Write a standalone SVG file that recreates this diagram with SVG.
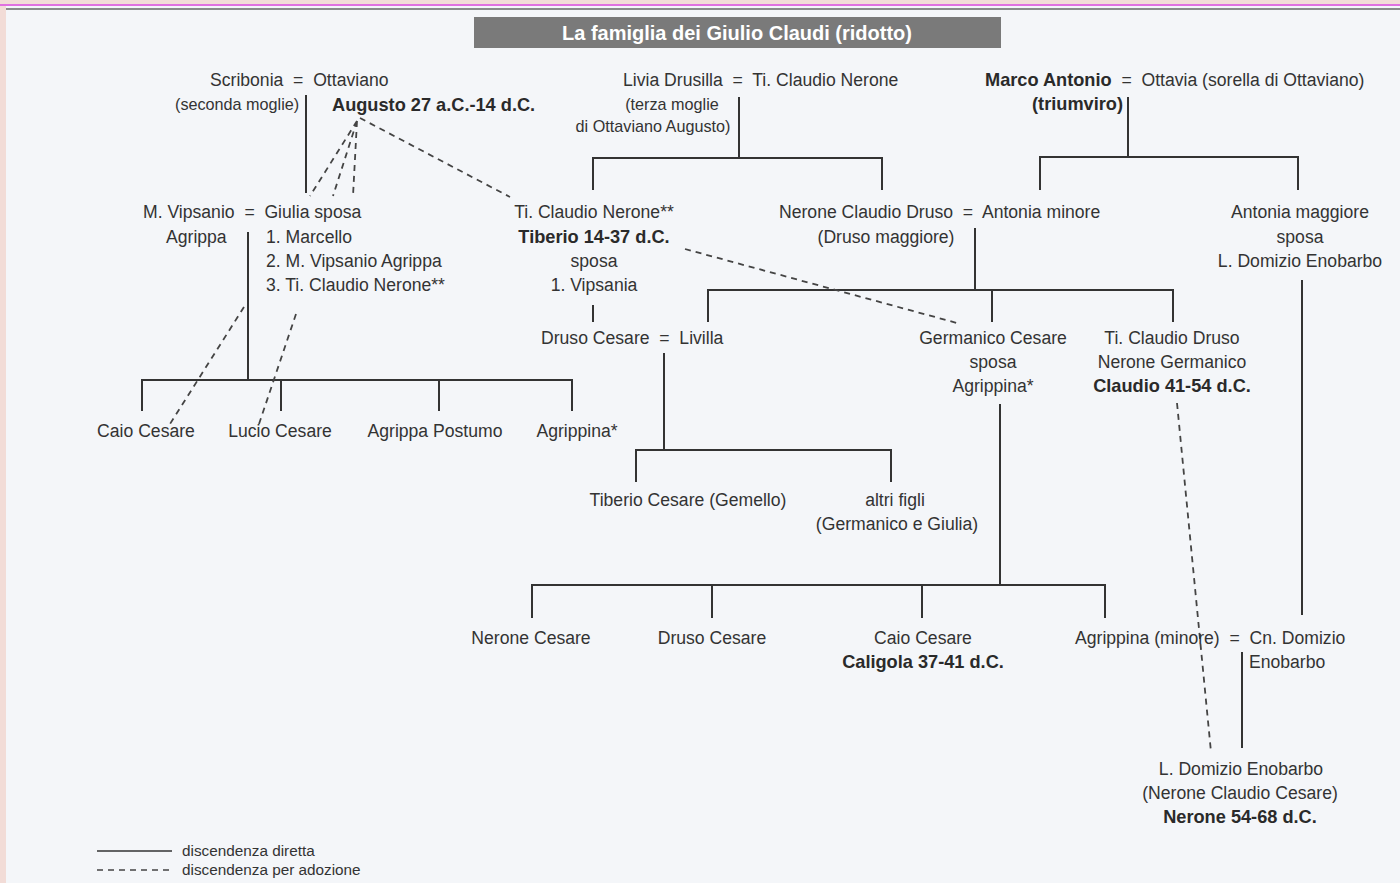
<svg xmlns="http://www.w3.org/2000/svg" width="1400" height="883" viewBox="0 0 1400 883" xml:space="preserve">
<style>
text{font-family:"Liberation Sans",Arial,sans-serif;font-size:17.6px;fill:#333;white-space:pre}
.s{font-size:16.2px}
.lg{font-size:15.3px}
.b{font-weight:bold;fill:#2a2a2a;font-size:18.2px}
.m{text-anchor:middle}
.e{text-anchor:end}
.ln{stroke:#333;stroke-width:2;fill:none}
.dl{stroke:#444;stroke-width:1.8;fill:none;stroke-dasharray:6 5}
.t{font-size:20px;font-weight:bold;fill:#fff;text-anchor:middle}
</style>
<rect x="0" y="0" width="1400" height="883" fill="#f2dcd7"/>
<rect x="6" y="6" width="1394" height="877" fill="#f4f6f9"/>
<line x1="0" y1="5" x2="1400" y2="5" stroke="#e070e0" stroke-width="2"/>
<line x1="6" y1="9" x2="1400" y2="9" stroke="#8a8a8a" stroke-width="2"/>
<g id="title">
<rect x="474" y="17" width="527" height="31" fill="#7a7a7a"/>
<text class="t" x="737" y="40">La famiglia dei Giulio Claudi (ridotto)</text>
</g>
<g id="connectors">
<path class="ln" d="M306 95V193"/>
<path class="ln" d="M739 97V158M593 190V158H882V190"/>
<path class="ln" d="M1128 97V157M1040 190V157H1298V190"/>
<path class="ln" d="M248 232V380M142 411V380H572V411M281 380V411M439 380V411"/>
<path class="ln" d="M593 305V322"/>
<path class="ln" d="M664 353V450M636 482V450H891V482"/>
<path class="ln" d="M975 228V290M708 322V290H1173V322M992 290V322"/>
<path class="ln" d="M1000 404V585M532 618V585H1105V618M712 585V618M922 585V618"/>
<path class="ln" d="M1302 280V615"/>
<path class="ln" d="M1242 652V748"/>
<path class="dl" d="M357 121L310 196M357 121L333 196M357 121L353 196M360 118L510 197"/>
<path class="dl" d="M244 307L170 424M296 314L259 424"/>
<path class="dl" d="M685 249L957 323"/>
<path class="dl" d="M1177 403L1211 752"/>
</g>
<g id="scribonia-ottaviano">
<text x="210" y="86">Scribonia  =  Ottaviano</text>
<text class="s" x="175" y="110">(seconda moglie)</text>
<text class="b" x="332" y="111">Augusto 27 a.C.-14 d.C.</text>
</g>
<g id="livia-nerone">
<text x="623" y="86">Livia Drusilla  =  Ti. Claudio Nerone</text>
<text class="s m" x="672" y="110">(terza moglie</text>
<text class="s m" x="653" y="132">di Ottaviano Augusto)</text>
</g>
<g id="antonio-ottavia">
<text x="985" y="86"><tspan class="b">Marco Antonio</tspan>  =  Ottavia (sorella di Ottaviano)</text>
<text class="b e" x="1123" y="110">(triumviro)</text>
</g>
<g id="agrippa-giulia">
<text x="143" y="218">M. Vipsanio  =  Giulia sposa</text>
<text x="166" y="243">Agrippa</text>
<text x="266" y="243">1. Marcello</text>
<text x="266" y="267">2. M. Vipsanio Agrippa</text>
<text x="266" y="291">3. Ti. Claudio Nerone**</text>
</g>
<g id="tiberio">
<text class="m" x="594" y="218">Ti. Claudio Nerone**</text>
<text class="m b" x="594" y="243">Tiberio 14-37 d.C.</text>
<text class="m" x="594" y="267">sposa</text>
<text class="m" x="594" y="291">1. Vipsania</text>
</g>
<g id="druso-antonia">
<text x="779" y="218">Nerone Claudio Druso  =  Antonia minore</text>
<text class="m" x="886" y="243">(Druso maggiore)</text>
</g>
<g id="antonia-maggiore">
<text class="m" x="1300" y="218">Antonia maggiore</text>
<text class="m" x="1300" y="243">sposa</text>
<text class="m" x="1300" y="267">L. Domizio Enobarbo</text>
</g>
<g id="druso-livilla">
<text x="541" y="344">Druso Cesare  =  Livilla</text>
</g>
<g id="germanico">
<text class="m" x="993" y="344">Germanico Cesare</text>
<text class="m" x="993" y="368">sposa</text>
<text class="m" x="993" y="392">Agrippina*</text>
</g>
<g id="claudio">
<text class="m" x="1172" y="344">Ti. Claudio Druso</text>
<text class="m" x="1172" y="368">Nerone Germanico</text>
<text class="m b" x="1172" y="392">Claudio 41-54 d.C.</text>
</g>
<g id="caio"><text class="m" x="146" y="437">Caio Cesare</text></g>
<g id="lucio"><text class="m" x="280" y="437">Lucio Cesare</text></g>
<g id="postumo"><text class="m" x="435" y="437">Agrippa Postumo</text></g>
<g id="agrippina"><text class="m" x="577" y="437">Agrippina*</text></g>
<g id="gemello"><text class="m" x="688" y="506">Tiberio Cesare (Gemello)</text></g>
<g id="altri-figli">
<text class="m" x="895" y="506">altri figli</text>
<text class="m" x="897" y="530">(Germanico e Giulia)</text>
</g>
<g id="nerone-cesare"><text class="m" x="531" y="644">Nerone Cesare</text></g>
<g id="druso-cesare"><text class="m" x="712" y="644">Druso Cesare</text></g>
<g id="caligola">
<text class="m" x="923" y="644">Caio Cesare</text>
<text class="m b" x="923" y="668">Caligola 37-41 d.C.</text>
</g>
<g id="agrippina-minore">
<text x="1075" y="644">Agrippina (minore)  =  Cn. Domizio</text>
<text x="1249" y="668">Enobarbo</text>
</g>
<g id="nerone">
<text class="m" x="1241" y="775">L. Domizio Enobarbo</text>
<text class="m" x="1240" y="799">(Nerone Claudio Cesare)</text>
<text class="m b" x="1240" y="823">Nerone 54-68 d.C.</text>
</g>
<g id="legend">
<line class="ln" x1="97" y1="851" x2="172" y2="851" style="stroke-width:1.5"/>
<line class="dl" x1="97" y1="870" x2="172" y2="870" style="stroke-width:1.5"/>
<text class="lg" x="182" y="856">discendenza diretta</text>
<text class="lg" x="182" y="875">discendenza per adozione</text>
</g>
</svg>
